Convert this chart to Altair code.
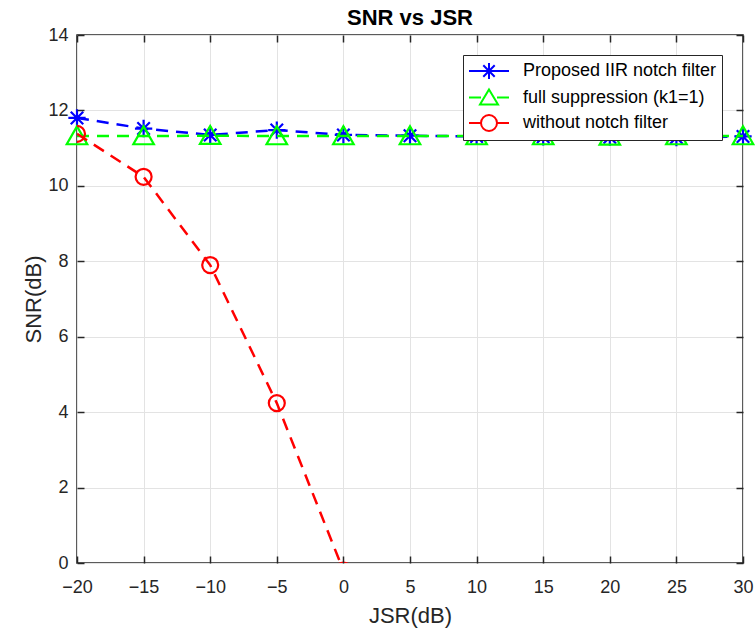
import altair as alt
import pandas as pd

FONT = "Liberation Sans"
AXIS_COLOR = "#262626"
GRID_COLOR = "#e3e3e3"

# ---- data ----
jsr = [-20, -15, -10, -5, 0, 5, 10, 15, 20, 25, 30]
snr_iir = [11.80, 11.52, 11.35, 11.48, 11.35, 11.33, 11.31, 11.30, 11.29, 11.28, 11.31]
snr_full = [11.32, 11.32, 11.33, 11.32, 11.32, 11.32, 11.32, 11.32, 11.31, 11.32, 11.32]
jsr_none = [-20, -15, -10, -5, 0]
snr_none = [11.38, 10.24, 7.90, 4.24, -0.20]

series_names = ["Proposed IIR notch filter", "full suppression (k1=1)", "without notch filter"]
series_colors = ["#0000ff", "#00ff00", "#ff0000"]

x_ticks = [-20, -15, -10, -5, 0, 5, 10, 15, 20, 25, 30]
y_ticks = [0, 2, 4, 6, 8, 10, 12, 14]

# ---- marker shapes ----
ASTERISK = "M0,-1V1M-1,0H1M-0.72,-0.72L0.72,0.72M-0.72,0.72L0.72,-0.72"
TRIANGLE = "M0,-0.95L1,0.8L-1,0.8Z"
legend_paths = [
    "M-1,0H3M1,-0.8V0.8M0.2,0H1.8M0.43,-0.57L1.57,0.57M0.43,0.57L1.57,-0.57",
    "M-1,0H0.2M1.8,0H3M1,-0.8L1.9,0.7L0.1,0.7Z",
    "M-1,0H0.2M1.8,0H3M1.8,0A0.8,0.8 0 1,1 0.2,0A0.8,0.8 0 1,1 1.8,0",
]

df_iir = pd.DataFrame({"jsr": jsr, "snr": snr_iir})
df_full = pd.DataFrame({"jsr": jsr, "snr": snr_full})
df_none = pd.DataFrame({"jsr": jsr_none, "snr": snr_none})

xscale = alt.Scale(domain=[-20, 30], nice=False, zero=False)
yscale = alt.Scale(domain=[0, 14], nice=False, zero=False)

minus_expr = "replace(datum.label, '-', '\u2212')"

x_main = alt.Axis(values=x_ticks, orient="bottom", title="JSR(dB)", grid=True,
                  gridColor=GRID_COLOR, gridWidth=1, ticks=False, domain=False,
                  labelFont=FONT, labelFontSize=18, labelColor=AXIS_COLOR,
                  labelPadding=15, labelExpr=minus_expr, labelFlush=False,
                  labelOverlap=False, titleFont=FONT, titleFontSize=22,
                  titleFontWeight="normal", titleColor=AXIS_COLOR,
                  titleBaseline="alphabetic", titleY=59)
y_main = alt.Axis(values=y_ticks, orient="left", title="SNR(dB)", grid=True,
                  gridColor=GRID_COLOR, gridWidth=1, ticks=False, domain=False,
                  labelFont=FONT, labelFontSize=18, labelColor=AXIS_COLOR,
                  labelPadding=9, labelFlush=False, labelOverlap=False,
                  titleFont=FONT, titleFontSize=22, titleFontWeight="normal",
                  titleColor=AXIS_COLOR, titlePadding=2)


def tick_axis(orient, vals):
    return alt.Axis(values=vals, orient=orient, offset=-7, tickSize=7,
                    tickWidth=1.5, tickColor=AXIS_COLOR, labels=False,
                    domain=False, grid=False, title=None, zindex=1)


def line_layer(df, color, xaxis, yaxis, clip=False):
    return alt.Chart(df).mark_line(
        color=color, strokeWidth=2.5, strokeDash=[12, 8], clip=clip
    ).encode(
        x=alt.X("jsr:Q", scale=xscale, axis=xaxis),
        y=alt.Y("snr:Q", scale=yscale, axis=yaxis),
    )


def point_layer(df, color, shape, size, clip=False):
    return alt.Chart(df).mark_point(
        color=color, shape=shape, size=size, filled=False, strokeWidth=2.2,
        opacity=1, clip=clip
    ).encode(
        x=alt.X("jsr:Q", scale=xscale, axis=None),
        y=alt.Y("snr:Q", scale=yscale, axis=None),
    )


l_iir = line_layer(df_iir, series_colors[0], x_main, y_main)
p_iir = point_layer(df_iir, series_colors[0], ASTERISK, 300)
l_full = line_layer(df_full, series_colors[1], tick_axis("bottom", x_ticks), tick_axis("left", y_ticks))
p_full = point_layer(df_full, series_colors[1], TRIANGLE, 420)
l_none = line_layer(df_none, series_colors[2], tick_axis("top", x_ticks), tick_axis("right", y_ticks), clip=True)
p_none = point_layer(df_none, series_colors[2], "circle", 256, clip=True)

legend_def = alt.Legend(
    orient="none", legendX=386, legendY=20, title=None, padding=5,
    strokeColor=AXIS_COLOR, fillColor="white", labelFont=FONT,
    labelFontSize=18, labelColor="black", labelOffset=33, rowPadding=2.5,
    symbolSize=400, symbolStrokeWidth=2, symbolOpacity=1, labelLimit=400,
    direction="vertical", cornerRadius=0,
)

legend_df = pd.DataFrame({"series": series_names})
legend_layer = alt.Chart(legend_df).mark_point(
    filled=False, strokeWidth=2, opacity=1, size=400
).encode(
    color=alt.Color("series:N", scale=alt.Scale(domain=series_names, range=series_colors),
                    legend=legend_def, sort=series_names),
    shape=alt.Shape("series:N", scale=alt.Scale(domain=series_names, range=legend_paths),
                    legend=legend_def, sort=series_names),
).transform_filter("false")

chart = alt.layer(
    l_iir, p_iir, l_full, p_full, l_none, p_none, legend_layer
).resolve_axis(
    x="independent", y="independent"
).properties(
    width=666, height=528,
    padding={"left": 77, "top": 35, "right": 12, "bottom": 67},
    autosize=alt.AutoSizeParams(type="none"),
    title=alt.TitleParams("SNR vs JSR", font=FONT, fontSize=22, fontWeight="bold",
                          color="black", offset=0, dy=21, baseline="alphabetic"),
).configure(
    font=FONT
).configure_view(
    stroke=AXIS_COLOR, strokeWidth=1.5
)

chart.save("out.html", embed_options={"renderer": "svg", "actions": False})
